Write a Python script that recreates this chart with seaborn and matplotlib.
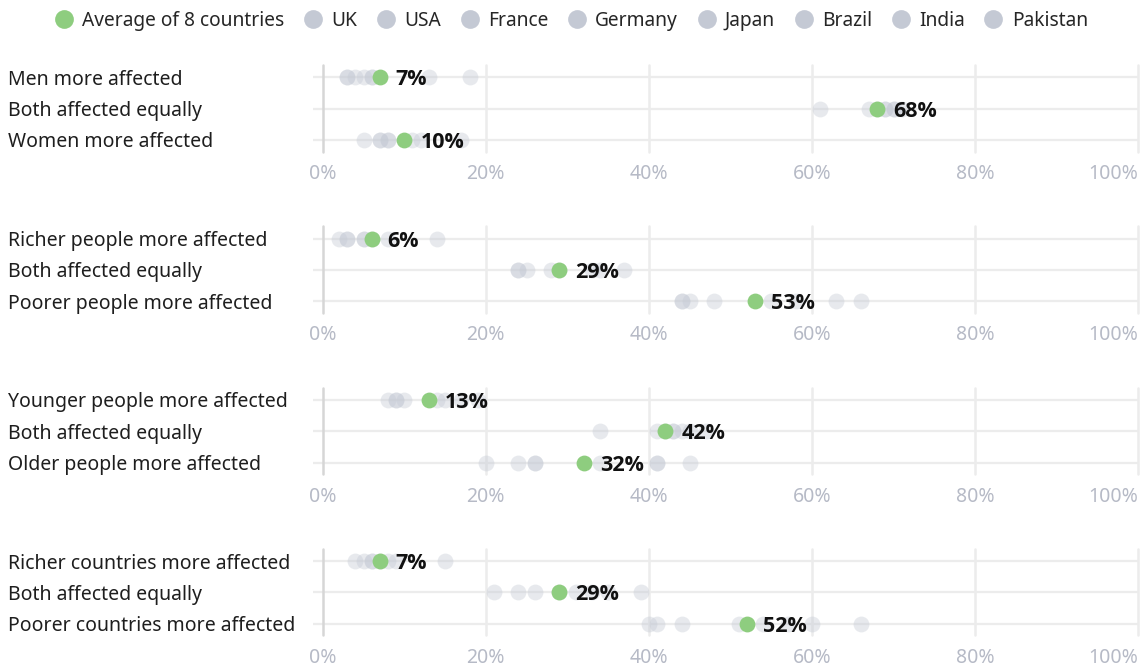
import numpy as np
import pandas as pd
import matplotlib
matplotlib.use("Agg")
import matplotlib.pyplot as plt
import matplotlib.transforms as mtransforms
from matplotlib import font_manager as fm
import seaborn as sns
from matplotlib.lines import Line2D

sns.set_theme(style="white")
plt.rcParams['font.family'] = ['Noto Sans', 'DejaVu Sans']

# 4 blocks x 3 answers
ROW_LABELS = [
    ["Men more affected", "Both affected equally", "Women more affected"],
    ["Richer people more affected", "Both affected equally", "Poorer people more affected"],
    ["Younger people more affected", "Both affected equally", "Older people more affected"],
    ["Richer countries more affected", "Both affected equally", "Poorer countries more affected"],
]

COUNTRIES = ["UK", "USA", "France", "Germany", "Japan", "Brazil", "India", "Pakistan"]

# % per country, in row order (block 1 rows 1-3, block 2 rows 1-3, ...)
UK       = [3, 61, 5, 2, 24, 44, 8, 34, 20, 4, 21, 40]
USA      = [3, 67, 7, 3, 24, 44, 9, 41, 24, 5, 24, 41]
FRANCE   = [4, 68, 7, 3, 25, 45, 9, 42, 26, 6, 26, 44]
GERMANY  = [5, 69, 8, 5, 28, 48, 10, 43, 26, 6, 29, 51]
JAPAN    = [6, 69, 8, 5, 29, 55, 14, 43, 34, 7, 31, 54]
BRAZIL   = [6, 70, 11, 6, 33, 58, 15, 44, 41, 8, 33, 57]
INDIA    = [13, 70, 17, 8, 34, 63, 17, 45, 41, 9, 35, 60]
PAKISTAN = [18, 71, 12, 14, 37, 66, 19, 47, 45, 15, 39, 66]

AVERAGE  = [7, 68, 10, 6, 29, 53, 13, 42, 32, 7, 29, 52]

XTICKS = [0, 20, 40, 60, 80, 100]

GREEN = "#8ecd7f"
GREY = "#c4c9d4"
GRID = "#ececec"
TICK_COL = "#b6bac6"

# pick a family that really has a bold face installed
bold_family = "DejaVu Sans"
for fam in ["Noto Sans", "Open Sans", "Roboto", "Lato", "Inter", "Liberation Sans"]:
    if any(f.name == fam and (f.weight == "bold" or (isinstance(f.weight, int) and f.weight >= 700))
           for f in fm.fontManager.ttflist):
        bold_family = fam
        break

country_vals = [UK, USA, FRANCE, GERMANY, JAPAN, BRAZIL, INDIA, PAKISTAN]
recs = []
for name, vals in zip(COUNTRIES, country_vals):
    for i, v in enumerate(vals):
        recs.append({"country": name, "block": i // 3, "row": i % 3, "value": v})
df = pd.DataFrame(recs)
avg = pd.DataFrame({"block": [i // 3 for i in range(12)],
                    "row": [i % 3 for i in range(12)],
                    "value": AVERAGE})

W, H = 1142, 669
fig = plt.figure(figsize=(W / 100, H / 100), dpi=100)

x0, x1 = 313, 1139
for b in range(4):
    top = 65 + 161.3 * b
    bot = 151.5 + 161.3 * b
    ax = fig.add_axes([x0 / W, 1 - bot / H, (x1 - x0) / W, (bot - top) / H])
    ax.set_xlim(-1.2, 100.1)
    ax.set_ylim(2.37, -0.39)

    # grid lines
    for r in range(3):
        ax.axhline(r, color=GRID, lw=1.6, zorder=0)
    for t in XTICKS:
        ax.axvline(t, color="#d6d6d6" if t == 0 else GRID,
                   lw=1.8, zorder=0, clip_on=False)

    sub = df[df["block"] == b]
    sns.scatterplot(data=sub, x="value", y="row", color=GREY, alpha=0.4,
                    s=130, linewidth=0, ax=ax, legend=False, zorder=2)
    sa = avg[avg["block"] == b]
    sns.scatterplot(data=sa, x="value", y="row", color=GREEN,
                    s=130, linewidth=0, ax=ax, legend=False, zorder=3)
    for _, rr in sa.iterrows():
        ax.annotate(f"{int(rr['value'])}%", (rr["value"], rr["row"]),
                    xytext=(11.5, 0), textcoords="offset points",
                    ha="left", va="center_baseline", fontsize=15.5,
                    fontweight="bold", family=[bold_family, "DejaVu Sans"],
                    color="#111111", zorder=4)

    tr = mtransforms.blended_transform_factory(fig.transFigure, ax.transData)
    for r, lab in enumerate(ROW_LABELS[b]):
        ax.text(8 / W, r, lab, transform=tr, ha="left", va="center_baseline",
                fontsize=14, color="#1e1e1e")

    ax.set_xticks(XTICKS)
    ax.set_xticklabels([f"{t}%" for t in XTICKS])
    ax.set_yticks([])
    ax.set_xlabel("")
    ax.set_ylabel("")
    ax.tick_params(axis="x", length=0, pad=9, labelsize=14, labelcolor=TICK_COL)
    labs = ax.get_xticklabels()
    labs[-1].set_horizontalalignment("right")
    for sp in ax.spines.values():
        sp.set_visible(False)

handles = [Line2D([], [], marker="o", ls="", markersize=13.5,
                  markerfacecolor=GREEN, markeredgewidth=0)]
handles += [Line2D([], [], marker="o", ls="", markersize=13.5,
                   markerfacecolor=GREY, markeredgewidth=0) for _ in COUNTRIES]
fig.legend(handles, ["Average of 8 countries"] + COUNTRIES,
           loc="center", bbox_to_anchor=(0.5, 1 - 21 / H), ncol=9,
           frameon=False, fontsize=13.8, handlelength=1.0, handletextpad=0.45,
           columnspacing=1.0, borderpad=0)

fig.savefig("out.png", dpi=100)
